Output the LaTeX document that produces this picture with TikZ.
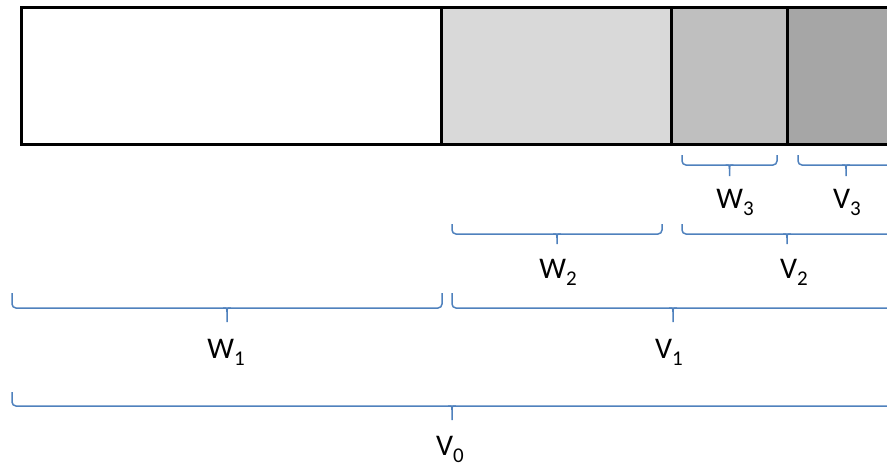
\documentclass[tikz,border=0pt]{standalone}
\usepackage{fontspec}
\setmainfont{Carlito}
\usepackage{tikz}
\usetikzlibrary{calc}

\definecolor{bracecol}{HTML}{4F81BD}
\definecolor{grayA}{HTML}{D9D9D9}
\definecolor{grayB}{HTML}{BFBFBF}
\definecolor{grayC}{HTML}{A6A6A6}

\newcommand{\lsub}[1]{\raisebox{-7pt}{\fontsize{21}{21}\selectfont #1}}
% brace under a span: ends (#1),(#2), hook height #3, tip depth #4
\newcommand{\wbrace}[4]{%
  \draw[brc,rounded corners=4pt] (#1) -- ($(#1)+(0,#3)$) -- ($(#2)+(0,#3)$) -- (#2);
  \draw[brc] ($(#1)!.5!(#2)+(-4,#3)$) .. controls ($(#1)!.5!(#2)+(0,#3)$) .. ($(#1)!.5!(#2)+(0,#3+4)$) -- ($(#1)!.5!(#2)+(0,#3+#4)$);
  \draw[brc] ($(#1)!.5!(#2)+(4,#3)$) .. controls ($(#1)!.5!(#2)+(0,#3)$) .. ($(#1)!.5!(#2)+(0,#3+4)$);
}

\begin{document}
\begin{tikzpicture}[x=1pt,y=-1pt,
  cell/.style={draw,line width=3pt,inner sep=0pt,minimum height=137pt},
  brc/.style={draw=bracecol,line width=1.5pt},
  lbl/.style={anchor=base,inner sep=0pt,font=\fontsize{30}{36}\selectfont}]
  \useasboundingbox (0,0) rectangle (887,466);
  \clip (0,0) rectangle (887,466);

  % the bar
  \node[cell,fill=white,minimum width=419.5pt] (c1) at (231.25,75.5) {};
  \node[cell,fill=grayA,minimum width=230pt] (c2) at (556,75.5) {};
  \node[cell,fill=grayB,minimum width=116.5pt] (c3) at (729.25,75.5) {};
  \node[cell,fill=grayC,minimum width=122.5pt] (c4) at (848.75,75.5) {};

  % brace end points
  \coordinate (w3l) at (682,155); \coordinate (w3r) at (777,155);
  \coordinate (v3l) at (798,155); \coordinate (v3r) at (894,155);
  \coordinate (w2l) at (452,224); \coordinate (w2r) at (662,224);
  \coordinate (v2l) at (682,224); \coordinate (v2r) at (892,224);
  \coordinate (w1l) at (12,293);  \coordinate (w1r) at (442,293);
  \coordinate (v1l) at (452,293); \coordinate (v1r) at (894,293);
  \coordinate (v0l) at (12,392);  \coordinate (v0r) at (892,392);

  \wbrace{w3l}{w3r}{10}{11}
  \wbrace{v3l}{v3r}{10}{11}
  \wbrace{w2l}{w2r}{10}{10}
  \wbrace{v2l}{v2r}{10}{10}
  \wbrace{w1l}{w1r}{15}{14}
  \wbrace{v1l}{v1r}{15}{14}
  \wbrace{v0l}{v0r}{14}{14}

  % labels
  \node[lbl] (lw3) at (735,208) {W\lsub{3}};
  \node[lbl] (lv3) at (847,208) {V\lsub{3}};
  \node[lbl] (lw2) at (558,278) {W\lsub{2}};
  \node[lbl] (lv2) at (794,278) {V\lsub{2}};
  \node[lbl] (lw1) at (226,358) {W\lsub{1}};
  \node[lbl] (lv1) at (669,358) {V\lsub{1}};
  \node[lbl] (lv0) at (450,455) {V\lsub{0}};
\end{tikzpicture}
\end{document}
